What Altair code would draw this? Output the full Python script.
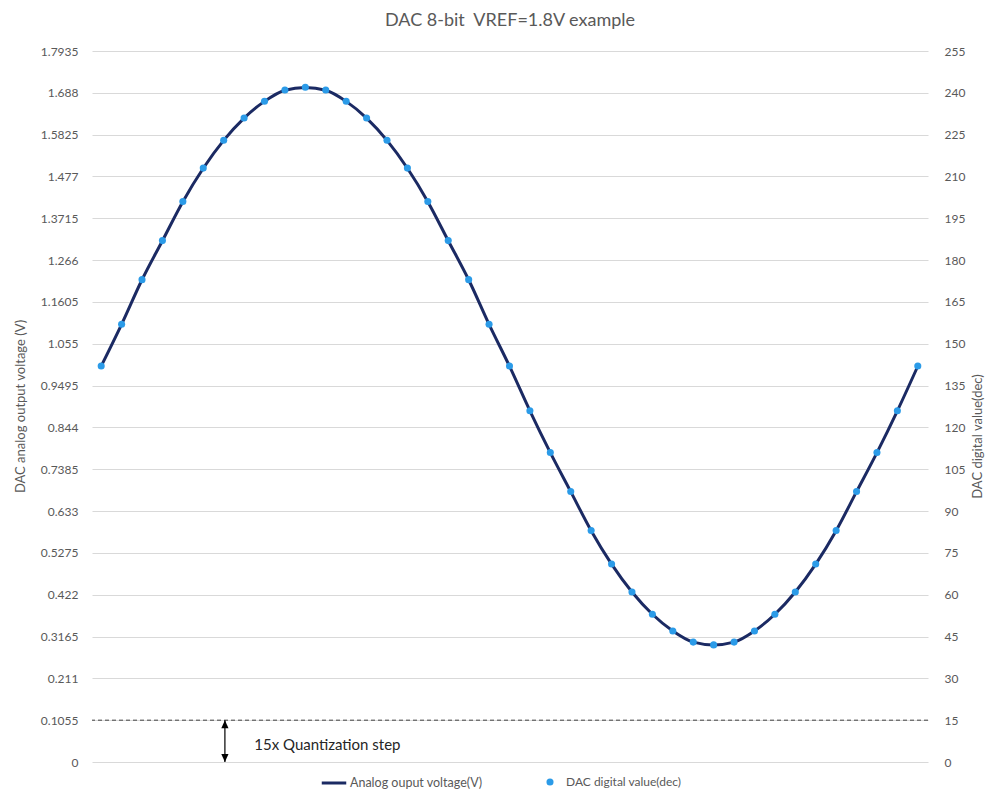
import altair as alt
import pandas as pd

# ---------------- data ----------------
VREF = 1.8
sample_index = [0, 1, 2, 3, 4, 5, 6, 7, 8, 9, 10, 11, 12, 13, 14, 15, 16, 17, 18, 19, 20,
                21, 22, 23, 24, 25, 26, 27, 28, 29, 30, 31, 32, 33, 34, 35, 36, 37, 38, 39, 40]
dac_code = [142, 157, 173, 187, 201, 213, 223, 231, 237, 241, 242, 241, 237, 231, 223, 213,
            201, 187, 173, 157, 142, 126, 111, 97, 83, 71, 61, 53, 47, 43, 42, 43, 47, 53,
            61, 71, 83, 97, 111, 126, 142]
analog_voltage = [c * VREF / 256 for c in dac_code]

voltage_ticks = [0, 0.1055, 0.211, 0.3165, 0.422, 0.5275, 0.633, 0.7385, 0.844, 0.9495,
                 1.055, 1.1605, 1.266, 1.3715, 1.477, 1.5825, 1.688, 1.7935]
code_ticks = [0, 15, 30, 45, 60, 75, 90, 105, 120, 135, 150, 165, 180, 195, 210, 225, 240, 255]

line_name = "Analog ouput voltage(V)"
point_name = "DAC digital value(dec)"
title_text = "DAC 8-bit \u00a0VREF=1.8V example"

quant_step_level = [0.1055]
arrow_x = [6.06]
arrow_from = [0.0]
arrow_to = [0.1055]
note_text = ["15x Quantization step"]
note_x = [7.5]
note_y = [0.042]

FONT = "Lato"
GREY = "#595959"
NAVY = "#1B2A63"
BLUE = "#2B9BE8"

df = pd.DataFrame({"i": sample_index, "v": analog_voltage, "code": dac_code,
                   "line_series": line_name, "pt_series": point_name})

x_scale = alt.Scale(domain=[-0.45, 40.5], nice=False, zero=False)
left_scale = alt.Scale(domain=[0, 1.7935], nice=False, zero=False)
right_scale = alt.Scale(domain=[0, 255], nice=False, zero=False)

left_axis = alt.Axis(values=voltage_ticks, format=".4~f", title="DAC analog output voltage (V)",
                     grid=True, gridColor="#d9d9d9", gridWidth=1, domain=False, ticks=False,
                     labelPadding=14, labelFont=FONT, labelFontSize=12, labelColor=GREY,
                     titleFont=FONT, titleFontSize=13, titleColor=GREY, titleFontWeight="normal",
                     titleAngle=-90, titleX=-72, titleY=355, titleAlign="center",
                     titleBaseline="middle")
right_axis = alt.Axis(values=code_ticks, orient="right", title=point_name, grid=False,
                      domain=False, ticks=False, labelPadding=16, labelFont=FONT,
                      labelFontSize=12, labelColor=GREY, titleFont=FONT, titleFontSize=13,
                      titleColor=GREY, titleFontWeight="normal", titleAngle=-90, titleX=49,
                      titleY=385, titleAlign="center", titleBaseline="middle")


def xenc():
    return alt.X("i:Q", scale=x_scale, axis=None)


def yleft(field="v:Q"):
    return alt.Y(field, scale=left_scale, axis=left_axis)


line = alt.Chart(df).mark_line(interpolate="monotone", strokeWidth=3).encode(
    x=xenc(), y=yleft(),
    stroke=alt.Stroke("line_series:N",
                      scale=alt.Scale(domain=[line_name], range=[NAVY]),
                      legend=alt.Legend(title=None, orient="none", legendX=228, legendY=718,
                                        symbolType="stroke", symbolSize=600,
                                        symbolStrokeWidth=3, labelFont=FONT,
                                        labelFontSize=12.5, labelColor=GREY, labelOffset=2)))

rule = alt.Chart(pd.DataFrame({"v": quant_step_level})).mark_rule(
    strokeDash=[4, 3], color="#404040", strokeWidth=1).encode(y=yleft())

arrow = alt.Chart(pd.DataFrame({"i": arrow_x, "v": arrow_from, "v2": arrow_to})).mark_rule(
    color="black", strokeWidth=1.2).encode(x=xenc(), y=yleft(), y2="v2:Q")

up_path = "M0,0L-0.9,2L0.9,2Z"
down_path = "M0,0L-0.9,-2L0.9,-2Z"
heads = alt.Chart(pd.DataFrame({"i": arrow_x * 2, "v": arrow_to + arrow_from,
                                "dir": ["up", "down"]})).mark_point(
    filled=True, color="black", size=64, opacity=1).encode(
    x=xenc(), y=yleft(),
    shape=alt.Shape("dir:N", scale=alt.Scale(domain=["up", "down"], range=[up_path, down_path]),
                    legend=None))

note = alt.Chart(pd.DataFrame({"i": note_x, "v": note_y, "t": note_text})).mark_text(
    align="left", baseline="middle", font=FONT, fontSize=15, color="#262626").encode(
    x=xenc(), y=yleft(), text="t:N")

left = alt.layer(line, rule, arrow, heads, note)

points = alt.Chart(df).mark_circle(size=50, opacity=1).encode(
    x=xenc(),
    y=alt.Y("code:Q", scale=right_scale, axis=right_axis),
    fill=alt.Fill("pt_series:N",
                  scale=alt.Scale(domain=[point_name], range=[BLUE]),
                  legend=alt.Legend(title=None, orient="none", legendX=452, legendY=725,
                                    symbolType="circle", symbolSize=50, labelFont=FONT,
                                    labelFontSize=12, labelColor=GREY, labelOffset=10)))

chart = alt.layer(left, points).resolve_scale(
    y="independent", stroke="independent", fill="independent", shape="independent"
).properties(
    width=836, height=711,
    title=alt.TitleParams(text=title_text, font=FONT, fontSize=18, fontWeight="normal",
                          color=GREY, anchor="middle", dy=-11),
    padding={"left": 84, "top": 43, "right": 58, "bottom": 32},
    autosize=alt.AutoSizeParams(type="none"),
    background="white",
).configure_view(stroke=None)

chart.save("out.html", embed_options={"renderer": "svg", "actions": False})
